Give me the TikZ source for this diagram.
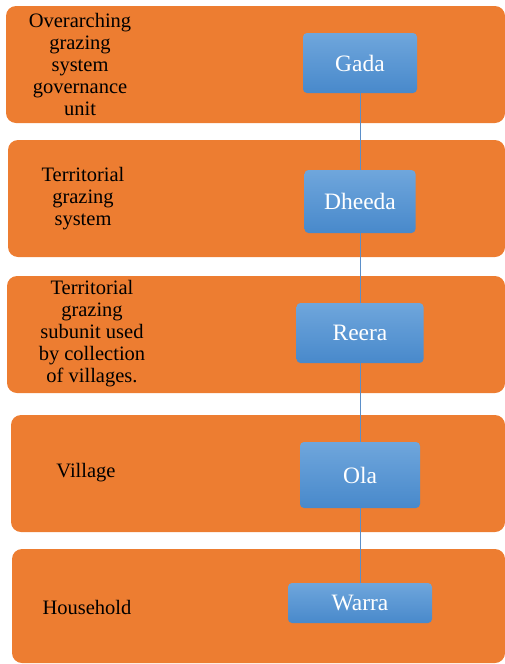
\documentclass[tikz,border=0pt]{standalone}
\usepackage{fontspec}
\setmainfont{Liberation Serif}
\definecolor{bandorange}{HTML}{ED7D31}
\definecolor{boxtop}{HTML}{6FA6DC}
\definecolor{boxbottom}{HTML}{4889CB}
\definecolor{linkblue}{HTML}{5B8FC9}
\begin{document}
\begin{tikzpicture}[x=1pt,y=-1pt,
    band/.style={fill=bandorange,rounded corners=10pt},
    unit/.style={rounded corners=4pt,top color=boxtop,bottom color=boxbottom,text=white,inner sep=0pt,font=\fontsize{23.5}{26}\selectfont},
    leveltext/.style={align=center,text=black,inner sep=0pt,font=\fontsize{20.5}{22}\selectfont},
    link/.style={draw=linkblue,line width=1pt}]
        \useasboundingbox (0,0) rectangle (505,664);
        % orange bands
        \fill[band] (6,6) rectangle (505,123);
        \fill[band] (8,140) rectangle (505,257);
        \fill[band] (7,276) rectangle (505,393);
        \fill[band] (11,415) rectangle (505,532);
        \fill[band] (12,549) rectangle (505,663);
        % levels
        \node[leveltext] (t1) at (80,64) {Overarching\\grazing\\system\\governance\\unit};
        \node[leveltext] (t2) at (83,199) {Territorial\\grazing\\system};
        \node[leveltext] (t3) at (92,334) {Territorial\\grazing\\subunit used\\by collection\\of villages.};
        \node[leveltext] (t4) at (86,473) {Village};
        \node[leveltext] (t5) at (87,607) {Household};
        % units
        \node[unit,minimum width=114pt,minimum height=60pt] (gada) at (360,63) {Gada};
        \node[unit,minimum width=111pt,minimum height=63pt] (dheeda) at (360,201.5) {Dheeda};
        \node[unit,minimum width=127pt,minimum height=60pt] (reera) at (360,333) {Reera};
        \node[unit,minimum width=120pt,minimum height=66pt] (ola) at (360,475) {Ola};
        \node[unit,minimum width=144pt,minimum height=40pt] (warra) at (360,603) {Warra};
        \draw[link] (gada) -- (dheeda);
        \draw[link] (dheeda) -- (reera);
        \draw[link] (reera) -- (ola);
        \draw[link] (ola) -- (warra);
    \end{tikzpicture}
\end{document}
